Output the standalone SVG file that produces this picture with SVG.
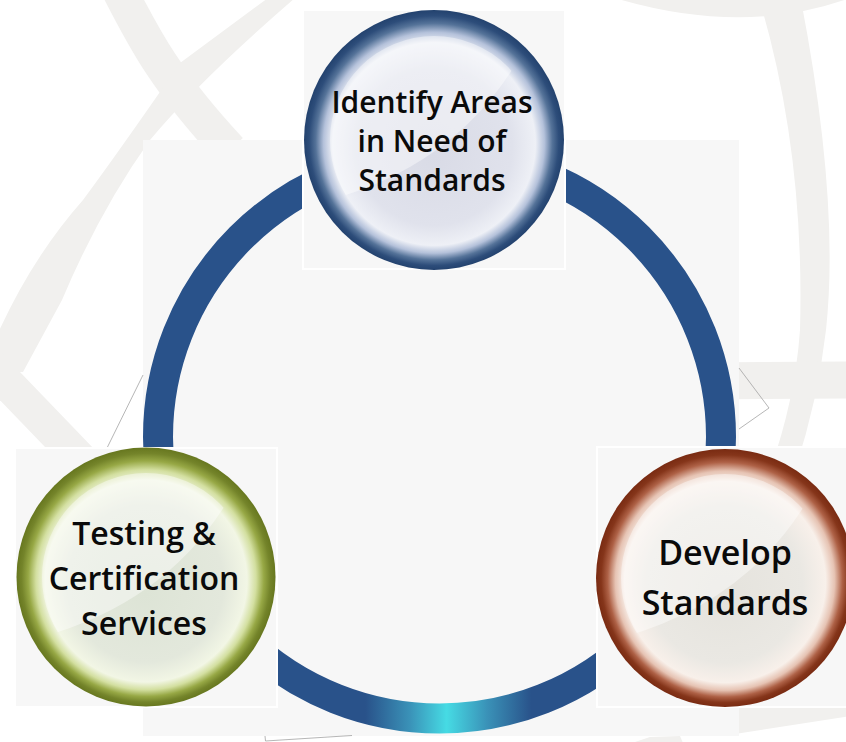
<svg xmlns="http://www.w3.org/2000/svg" width="846" height="742" viewBox="0 0 846 742">
<defs>
<style>
.bg{fill:#f1f0ee}
.bgs{fill:none;stroke:#f1f0ee}
.thin{fill:none;stroke:#a3a3a3;stroke-width:0.8}
.sq{fill:#f7f7f7;stroke:#ffffff;stroke-width:2}
.lbl{font-family:"Open Sans","DejaVu Sans",sans-serif;font-weight:600;fill:#0a0a0a;text-anchor:middle}
.gloss{fill:#ffffff;opacity:0.42}
</style>
<linearGradient id="ringGrad" gradientUnits="userSpaceOnUse" x1="143" y1="0" x2="736" y2="0">
<stop offset="0" stop-color="#29528a"/>
<stop offset="0.375" stop-color="#29528a"/>
<stop offset="0.45" stop-color="#3a92b8"/>
<stop offset="0.512" stop-color="#46dbe4"/>
<stop offset="0.58" stop-color="#3a92b8"/>
<stop offset="0.655" stop-color="#29528a"/>
<stop offset="1" stop-color="#29528a"/>
</linearGradient>
<radialGradient id="gBlue" cx="0.5" cy="0.5" r="0.5" fx="0.5" fy="0.57">
<stop offset="0" stop-color="#d9dbe6"/>
<stop offset="0.6" stop-color="#e0e2ec"/>
<stop offset="0.78" stop-color="#eef0f6"/>
<stop offset="0.85" stop-color="#b4c1da"/>
<stop offset="0.91" stop-color="#557399"/>
<stop offset="0.96" stop-color="#2d4d7a"/>
<stop offset="1" stop-color="#23426e"/>
</radialGradient>
<radialGradient id="gGreen" cx="0.5" cy="0.5" r="0.5" fx="0.5" fy="0.57">
<stop offset="0" stop-color="#dde4d6"/>
<stop offset="0.6" stop-color="#e3e8dc"/>
<stop offset="0.78" stop-color="#f2f6e5"/>
<stop offset="0.85" stop-color="#d3dfa0"/>
<stop offset="0.91" stop-color="#97a845"/>
<stop offset="0.96" stop-color="#74842a"/>
<stop offset="1" stop-color="#67771f"/>
</radialGradient>
<radialGradient id="gBrown" cx="0.5" cy="0.5" r="0.5" fx="0.5" fy="0.57">
<stop offset="0" stop-color="#e5e3dd"/>
<stop offset="0.6" stop-color="#eae8e3"/>
<stop offset="0.78" stop-color="#f8f0ea"/>
<stop offset="0.85" stop-color="#e6c3b3"/>
<stop offset="0.91" stop-color="#ae6146"/>
<stop offset="0.96" stop-color="#85351a"/>
<stop offset="1" stop-color="#792b12"/>
</radialGradient>
<clipPath id="inner" clipPathUnits="userSpaceOnUse"><circle cx="0" cy="0" r="104"/></clipPath>
</defs>

<rect width="846" height="742" fill="#ffffff"/>

<g id="background">
<path class="bgs" stroke-width="35" d="M 114 -20 C 140 30, 160 75, 230 150"/>
<path class="bg" d="M 268 -2 L 295 -2 Q 200 80 150 140 Q 100 210 62 300 L 23 372 L -5 372 L -5 340 Q 30 260 83 200 Q 120 150 180 63 Z"/>
<path class="bgs" stroke-width="34" d="M -20 355 L 110 490"/>
<path class="bg" d="M 758 -5 L 800 -5 Q 840 200 826 330 Q 818 400 795 470 L 770 470 Q 795 400 800 330 Q 805 150 758 -5 Z"/>
<path class="bg" d="M 605 -5 Q 740 38 850 -2 L 850 -10 L 605 -10 Z"/>
<path class="bgs" stroke-width="37" d="M 700 381 L 850 380"/>
<polygon class="bg" points="735,700 850,700 850,716 735,734"/>
<polygon class="bg" points="632,743 683,743 680,736 650,737"/>
<rect x="143" y="140" width="596" height="596" fill="#f7f7f7"/>
</g>

<g id="connectors">
<polyline class="thin" points="739,368 769,408 739,429"/>
<polyline class="thin" points="143,375 107,448"/>
<polyline class="thin" points="265,736 265.5,741 352,735.5"/>
<circle cx="439.5" cy="437" r="281.5" fill="none" stroke="url(#ringGrad)" stroke-width="30"/>
</g>

<g id="node-identify">
<rect class="sq" x="303" y="10" width="262" height="259"/>
<g transform="translate(434 140)">
<circle r="130" fill="url(#gBlue)"/>
<path class="gloss" clip-path="url(#inner)" d="M 100 -110 Q 30 40 -150 70 L -150 -150 L 100 -150 Z"/>
</g>
<text class="lbl" font-size="30" x="432" y="113">Identify Areas</text>
<text class="lbl" font-size="30" x="432" y="152">in Need of</text>
<text class="lbl" font-size="30" x="432" y="191">Standards</text>
</g>

<g id="node-testing">
<rect class="sq" x="15" y="448" width="262" height="259"/>
<g transform="translate(146 577)">
<circle r="129.5" fill="url(#gGreen)"/>
<path class="gloss" clip-path="url(#inner)" d="M 100 -110 Q 30 40 -150 70 L -150 -150 L 100 -150 Z"/>
</g>
<text class="lbl" font-size="32" x="144" y="545">Testing &amp;</text>
<text class="lbl" font-size="32" x="144" y="590">Certification</text>
<text class="lbl" font-size="32" x="144" y="635">Services</text>
</g>

<g id="node-develop">
<rect class="sq" x="597" y="447" width="262" height="260"/>
<g transform="translate(725 578)">
<circle r="129" fill="url(#gBrown)"/>
<path class="gloss" clip-path="url(#inner)" d="M 100 -110 Q 30 40 -150 70 L -150 -150 L 100 -150 Z"/>
</g>
<text class="lbl" font-size="34" x="725" y="565">Develop</text>
<text class="lbl" font-size="34" x="725" y="615">Standards</text>
</g>
</svg>
